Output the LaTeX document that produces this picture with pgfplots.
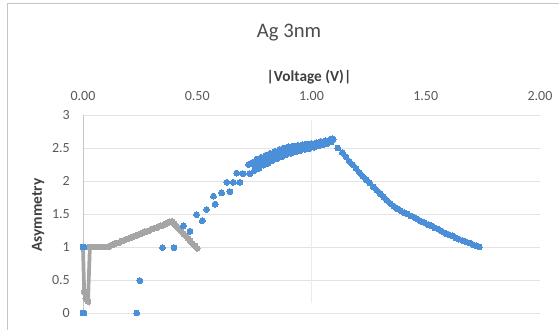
\documentclass[border=0pt]{standalone}
\usepackage{fontspec}
\setmainfont{Carlito}
\usepackage{pgfplots}
\pgfplotsset{compat=1.18}
\definecolor{exblue}{HTML}{4A8FD8}
\definecolor{exgray}{HTML}{A5A5A5}
\definecolor{gridc}{HTML}{E3E3E3}
\definecolor{txt}{HTML}{595959}
\begin{document}
\begin{tikzpicture}
\begin{axis}[
  at={(0,0)}, anchor=origin,
  scale only axis, width=342.75pt, height=148.5pt,
  xmin=0, xmax=2, ymin=0, ymax=3,
  clip=false,
  axis line style={draw=none},
  major tick length=0pt,
  xtick={0,0.5,1,1.5,2},
  xticklabels={0.00,0.50,1.00,1.50,2.00},
  xticklabel pos=right,
  xticklabel style={anchor=base, yshift=11.25pt, text=txt, font=\fontsize{10.5}{12}\selectfont},
  ytick={0,0.5,1,1.5,2,2.5,3},
  yticklabels={0,0.5,1,1.5,2,2.5,3},
  yticklabel style={anchor=east, inner sep=0pt, xshift=-9.75pt, text=txt, font=\fontsize{10.5}{12}\selectfont},
  ymajorgrids,
  grid style={draw=gridc, line width=0.75pt},
]
\draw[gridc!70, line width=0.75pt] (axis cs:1,0.15) -- (axis cs:1,2.92);
\draw[gray!45, line width=0.75pt] (axis cs:0,0) -- (axis cs:0,3);
% gray series
\addplot[color=exgray, line width=2.8pt, mark=*, mark size=2.2pt, mark options={fill=exgray, draw=exgray, line width=0pt}] coordinates {
(0.000,1.00) (0.005,0.32) (0.012,0.22) (0.022,0.18) (0.030,1.00)
(0.040,1.00) (0.050,1.00) (0.060,1.00) (0.070,1.00) (0.080,1.00) (0.090,1.00) (0.100,1.00) (0.110,1.00) (0.120,1.02)
(0.130,1.03) (0.140,1.05) (0.150,1.06) (0.160,1.07) (0.170,1.09) (0.180,1.10) (0.190,1.12) (0.200,1.13)
(0.210,1.14) (0.220,1.16) (0.230,1.17) (0.240,1.18) (0.250,1.20) (0.260,1.21) (0.270,1.23) (0.280,1.24)
(0.290,1.25) (0.300,1.27) (0.310,1.28) (0.320,1.29) (0.330,1.31) (0.340,1.32) (0.350,1.33) (0.360,1.35)
(0.370,1.36) (0.380,1.38) (0.390,1.39)
(0.400,1.35) (0.410,1.31) (0.420,1.28) (0.430,1.24) (0.440,1.20) (0.450,1.17) (0.460,1.13) (0.470,1.09) (0.480,1.05) (0.490,1.02) (0.500,0.98)
};
% blue series
\addplot[only marks, mark=*, mark size=2.2pt, mark options={fill=exblue, draw=exblue, line width=0pt}] coordinates {
(0.000,1.00) (0.004,1.00) (0.000,0.00) (0.004,0.00)
(0.235,0.00) (0.249,0.49) (0.348,0.99) (0.398,0.99)
(0.439,1.32) (0.468,1.24) (0.497,1.49) (0.522,1.40)
(0.541,1.57) (0.578,1.65) (0.571,1.77) (0.607,1.82)
(0.629,1.98) (0.643,1.84) (0.658,1.98) (0.672,2.12)
(0.687,1.98) (0.700,2.11) (0.724,2.25) (0.730,2.11)
(0.740,2.28) (0.760,2.33) (0.780,2.36) (0.800,2.39) (0.820,2.42) (0.840,2.45) (0.860,2.48) (0.880,2.50)
(0.900,2.52) (0.920,2.53) (0.940,2.54) (0.960,2.55) (0.980,2.56) (1.000,2.57) (1.020,2.58) (1.040,2.60)
(1.060,2.61) (1.080,2.62) (1.090,2.64)
(0.750,2.16) (0.770,2.19) (0.790,2.24) (0.810,2.27) (0.830,2.31) (0.850,2.34) (0.870,2.37) (0.890,2.40)
(0.910,2.42) (0.930,2.44) (0.950,2.46) (0.970,2.48) (0.990,2.49) (1.010,2.51) (1.030,2.53) (1.050,2.55)
(1.070,2.57) (1.085,2.59)
(0.750,2.24) (0.770,2.27) (0.790,2.31) (0.810,2.35) (0.830,2.38) (0.850,2.41) (0.870,2.43) (0.890,2.47)
(0.910,2.48) (0.930,2.50) (0.950,2.52) (0.970,2.53) (0.990,2.54) (1.010,2.55) (1.030,2.56) (1.050,2.58)
(1.070,2.59)
(0.800,2.33) (0.840,2.40) (0.880,2.45) (0.920,2.49) (0.960,2.51) (1.000,2.53) (1.040,2.56)
(1.095,2.63) (1.115,2.50) (1.135,2.43) (1.150,2.37) (1.165,2.30) (1.180,2.25) (1.195,2.19) (1.210,2.13)
(1.225,2.07) (1.240,2.02) (1.255,1.97) (1.270,1.91) (1.285,1.86) (1.300,1.81) (1.315,1.76) (1.330,1.71)
(1.345,1.66) (1.360,1.62) (1.375,1.58) (1.390,1.55) (1.405,1.52) (1.420,1.50) (1.435,1.47) (1.450,1.45)
(1.465,1.42) (1.480,1.39) (1.495,1.37) (1.510,1.34) (1.525,1.32) (1.540,1.29) (1.555,1.27) (1.570,1.24)
(1.585,1.21) (1.600,1.19) (1.615,1.17) (1.630,1.14) (1.645,1.12) (1.660,1.10) (1.675,1.08) (1.690,1.06)
(1.705,1.04) (1.720,1.02) (1.735,1.00)
};
\end{axis}
\node[anchor=base, text=txt!85!black, font=\fontsize{15.5}{18}\selectfont] at (154.5pt,206.5pt) {Ag 3nm};
\node[anchor=base, text=txt!70!black, font=\fontsize{11.5}{14}\selectfont\bfseries] at (169.5pt,174pt) {|Voltage (V)|};
\node[rotate=90, text=txt!70!black, font=\fontsize{11.5}{14}\selectfont\bfseries] at (-33.75pt,73.5pt) {Asymmetry};
\draw[gridc!70!gray, line width=0.75pt] (-56.25pt,-40pt) |- (400pt,231.75pt);
\pgfresetboundingbox
\useasboundingbox (-62.25pt,-12pt) rectangle (357pt,234.75pt);
\end{tikzpicture}
\end{document}
